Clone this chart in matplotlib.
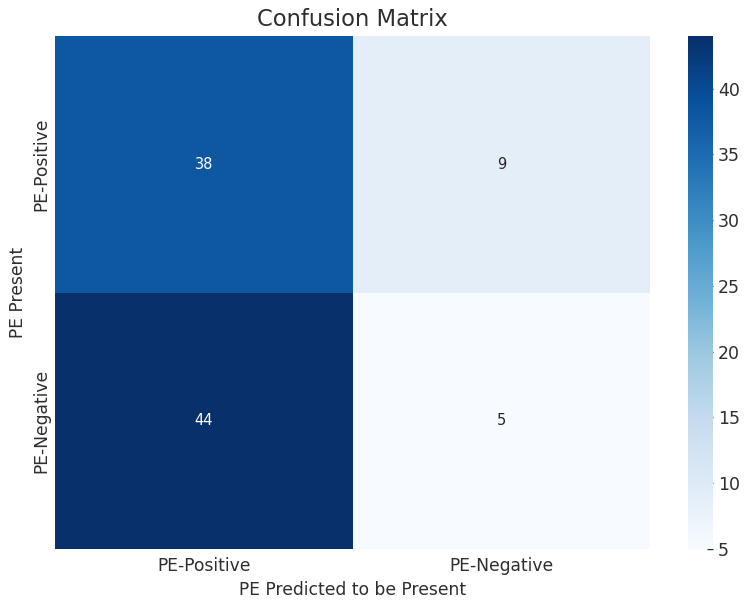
import numpy as np
import matplotlib
matplotlib.use("Agg")
import matplotlib.pyplot as plt
import seaborn as sns

categories = ["PE-Positive", "PE-Negative"]
row_positive = [38, 9]
row_negative = [44, 5]
title = "Confusion Matrix"
xlabel = "PE Predicted to be Present"
ylabel = "PE Present"

sns.set_style("white")
plt.rcParams['font.family'] = ['DejaVu Sans']
plt.rcParams['xtick.direction'] = 'in'
plt.rcParams['ytick.direction'] = 'in'

data = np.array([row_positive, row_negative])

W, H = 750, 605
fig = plt.figure(figsize=(7.5, 6.05), dpi=100)
ax = fig.add_axes([55 / W, (H - 549) / H, (650 - 55) / W, (549 - 36) / H])
cax = fig.add_axes([688 / W, (H - 549) / H, (713 - 688) / W, (549 - 36) / H])

sns.heatmap(data, annot=True, fmt="d", cmap="Blues", ax=ax, cbar_ax=cax,
            vmin=5, vmax=44, xticklabels=categories, yticklabels=categories,
            annot_kws={"fontsize": 10.5})

txt = "#2e2e2e"
ax.set_title(title, fontsize=16.3, color=txt, pad=7)
ax.set_xlabel(xlabel, fontsize=12.3, color=txt, labelpad=4)
ax.set_ylabel(ylabel, fontsize=12.3, color=txt, labelpad=4)
ax.tick_params(axis='both', labelsize=12.3, colors=txt, length=4, width=1, direction='in')
ax.tick_params(axis='x', pad=6)
for lab in ax.get_yticklabels():
    lab.set_rotation(90)
    lab.set_va('center')
cax.tick_params(labelsize=12.5, colors=txt, length=4, width=1, direction='in')
cax.set_yticks([5, 10, 15, 20, 25, 30, 35, 40])

fig.savefig("out.png", dpi=100)
